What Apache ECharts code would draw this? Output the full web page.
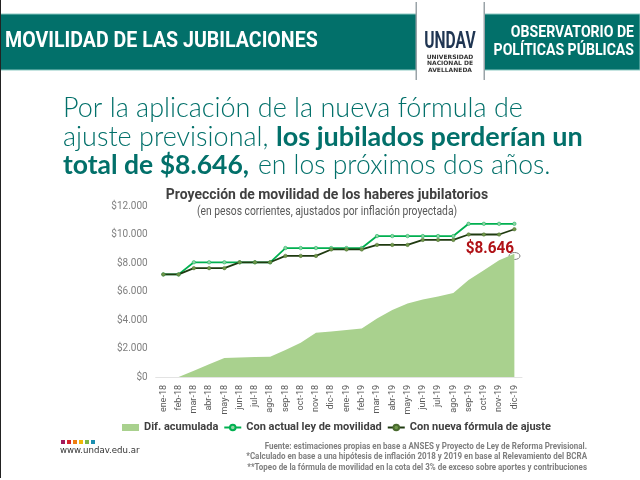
<!DOCTYPE html>
<html>
<head>
<meta charset="utf-8">
<style>html,body{margin:0;padding:0;background:#fff}#chart{width:640px;height:480px}</style>
<script src="https://cdn.jsdelivr.net/npm/echarts@6/dist/echarts.min.js"></script>
</head>
<body>
<div id="chart"></div>
<script>
var months = ['ene-18','feb-18','mar-18','abr-18','may-18','jun-18','jul-18','ago-18','sep-18','oct-18','nov-18','dic-18',
    'ene-19','feb-19','mar-19','abr-19','may-19','jun-19','jul-19','ago-19','sep-19','oct-19','nov-19','dic-19']
var difAcumulada = [0,0,445,890,1340,1370,1400,1420,1900,2400,3100,3200,3300,3400,4100,4700,5150,5440,5650,5900,6800,7500,8200,8646]
var actualLey = [7200,7200,8050,8050,8050,8050,8050,8050,9050,9050,9050,9050,9050,9050,9890,9890,9890,9890,9890,9890,10750,10750,10750,10750]
var nuevaFormula = [7200,7200,7640,7640,7640,8050,8050,8050,8500,8500,8500,8950,8950,8950,9270,9270,9270,9620,9620,9620,10000,10000,10000,10370]
var logoColors = ['#a3195b','#d8232a','#ee7d11','#f2b705','#7ab648','#1c8fb0']

var teal = '#02706a'
var roboto = 'Roboto,sans-serif'

// scaleX stands in for the condensed face, which is not installed
function txt(x, y, text, font, fill, align, sx) {
    return { type: 'text', x: x, y: y, scaleX: sx || 1, silent: true,
        style: { text: text, font: font, fill: fill, textAlign: align || 'left', textVerticalAlign: 'middle' } }
}

var graphics = [
    { type: 'rect', shape: { x: 0, y: 14, width: 640, height: 56 }, style: { fill: teal, stroke: '#8cc9c2', lineWidth: 1 } },
    { type: 'rect', shape: { x: 416, y: 2, width: 68, height: 78 }, style: { fill: '#fff' } },
    { type: 'rect', shape: { x: 415.5, y: 2, width: 1.5, height: 78 }, style: { fill: '#9aa3a8' } },
    { type: 'rect', shape: { x: 483.5, y: 2, width: 1.5, height: 78 }, style: { fill: '#9aa3a8' } },
    { type: 'rect', shape: { x: 0, y: 0, width: 1, height: 478 }, style: { fill: '#222' } },
    txt(5, 41, 'MOVILIDAD DE LAS JUBILACIONES', 'bold 22px ' + roboto, '#fff', 'left', 0.89),
    txt(634, 33, 'OBSERVATORIO DE', 'bold 16px ' + roboto, '#fff', 'right', 0.88),
    txt(634, 51, 'POLÍTICAS PÚBLICAS', 'bold 16px ' + roboto, '#fff', 'right', 0.88),
    txt(450, 42, 'UNDAV', 'bold 24px ' + roboto, '#1f3552', 'center', 0.65),
    txt(450, 57, 'UNIVERSIDAD', 'bold 6px "DejaVu Sans",sans-serif', '#333', 'center'),
    txt(450, 63.5, 'NACIONAL DE', 'bold 6px "DejaVu Sans",sans-serif', '#333', 'center'),
    txt(450, 70, 'AVELLANEDA', 'bold 6px "DejaVu Sans",sans-serif', '#333', 'center'),
    txt(63, 108, 'Por la aplicación de la nueva fórmula de', '300 27px Lato,sans-serif', teal),
    txt(63, 137, 'ajuste previsional,', '300 27px Lato,sans-serif', teal),
    txt(276, 137, 'los jubilados perderían un', 'bold 27px Lato,sans-serif', teal),
    txt(63, 165, 'total de $8.646,', 'bold 26.5px Lato,sans-serif', teal),
    txt(258, 165, 'en los próximos dos años.', '300 26.5px Lato,sans-serif', teal),
    txt(327, 195, 'Proyección de movilidad de los haberes jubilatorios', 'bold 15px ' + roboto, '#404040', 'center', 0.93),
    txt(327, 212, '(en pesos corrientes, ajustados por inflación proyectada)', '12px ' + roboto, '#595959', 'center', 0.86),
    txt(514, 249, '$8.646', 'bold 17px ' + roboto, '#b01116', 'right', 0.9),
    { type: 'ellipse', shape: { cx: 514.5, cy: 256, rx: 5.5, ry: 3.5 }, style: { fill: 'rgba(255,255,255,0.3)', stroke: '#808080', lineWidth: 1 } },
    txt(60, 451, 'www.undav.edu.ar', '8.6px "DejaVu Sans",sans-serif', '#333'),
    txt(587, 447, 'Fuente: estimaciones propias en base a ANSES y Proyecto de Ley de Reforma Previsional.', 'bold 9.5px ' + roboto, '#7f7f7f', 'right', 0.84),
    txt(587, 457, '*Calculado en base a una hipótesis de inflación 2018 y 2019 en base al Relevamiento del BCRA', 'bold 9.5px ' + roboto, '#7f7f7f', 'right', 0.84),
    txt(587, 468, '**Topeo de la fórmula de movilidad en la cota del 3% de exceso sobre aportes y contribuciones', 'bold 9.5px ' + roboto, '#7f7f7f', 'right', 0.84)
]
logoColors.forEach(function (c, i) {
    graphics.push({ type: 'rect', shape: { x: 61 + i * 6, y: 440, width: 4, height: 4 }, style: { fill: c } })
})

var chart = echarts.init(document.getElementById('chart'))
chart.setOption({
    animation: false,
    grid: { left: 155.7, right: 118, top: 206, bottom: 103 },
    legend: {
        top: 417, left: 117, itemGap: 5, itemWidth: 17, itemHeight: 7, symbolSize: 4,
        textStyle: { fontFamily: roboto, fontWeight: 'bold', fontSize: 11, color: '#404040' },
        data: [{ name: 'Dif. acumulada', icon: 'rect' }, 'Con actual ley de movilidad', 'Con nueva fórmula de ajuste']
    },
    xAxis: {
        type: 'category', data: months, boundaryGap: true,
        axisLine: { lineStyle: { color: '#e3e3e3' } },
        axisTick: { show: false },
        axisLabel: { rotate: 90, interval: 0, fontSize: 9, fontFamily: roboto, color: '#595959', margin: 8 }
    },
    yAxis: {
        type: 'value', min: 0, max: 12000, interval: 2000,
        splitLine: { show: false }, axisLine: { show: false }, axisTick: { show: false },
        axisLabel: {
            fontSize: 10, fontFamily: roboto, color: '#7f7f7f', margin: 8,
            formatter: function (v) { return '$' + String(v).replace(/\B(?=(\d{3})+$)/g, '.') }
        }
    },
    series: [
        { name: 'Dif. acumulada', type: 'line', data: difAcumulada, symbol: 'none',
            lineStyle: { width: 0 }, itemStyle: { color: '#a9d18e' }, areaStyle: { color: '#a9d18e', opacity: 1 } },
        { name: 'Con actual ley de movilidad', type: 'line', data: actualLey, symbol: 'circle', symbolSize: 3.5,
            lineStyle: { color: '#00b050', width: 1.8 }, itemStyle: { color: '#92d3a5', borderColor: '#00b050', borderWidth: 0.5 } },
        { name: 'Con nueva fórmula de ajuste', type: 'line', data: nuevaFormula, symbol: 'circle', symbolSize: 3.5,
            lineStyle: { color: '#1f3a10', width: 1.8 }, itemStyle: { color: '#70984a', borderColor: '#4a6b2f', borderWidth: 0.5 } }
    ],
    graphic: graphics
})
</script>
</body>
</html>
